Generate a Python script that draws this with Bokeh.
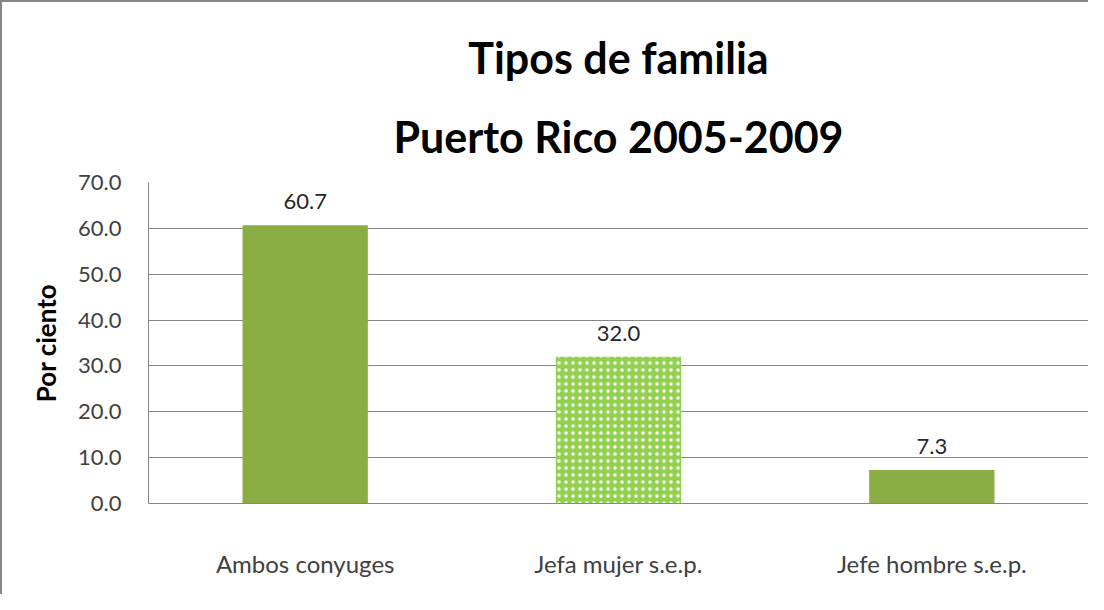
from bokeh.plotting import figure
from bokeh.models import ColumnDataSource, Range1d, FactorRange, LabelSet, Title, FixedTicker, CustomJSTickFormatter
from bokeh.core.properties import value
from bokeh.embed import file_html
from bokeh.resources import INLINE

categories = ["Ambos conyuges", "Jefa mujer s.e.p.", "Jefe hombre s.e.p."]
values = [60.7, 32.0, 7.3]
fill_colors = ["#8AAE44", "#92D050", "#8AAE44"]
hatches = [" ", ".", " "]
y_ticks = [0, 10, 20, 30, 40, 50, 60, 70]
title_lines = ["Tipos de familia", "Puerto Rico 2005-2009"]

labels = ["%.1f" % v for v in values]
src = ColumnDataSource(dict(cat=categories, val=values, lab=labels, color=fill_colors, hatch=hatches))

FONT = "Lato"
p = figure(width=1088, height=594, x_range=FactorRange(*categories), y_range=Range1d(0, 70),
           output_backend="svg", toolbar_location=None,
           min_border_left=146, min_border_right=2, min_border_top=180, min_border_bottom=93)
p.styles = {"border-left": "2px solid #868686", "border-top": "2px solid #868686"}

p.title.text = title_lines[0]
p.title.text_font = FONT
p.title.text_font_size = "43px"
p.title.text_font_style = "bold"
p.title.text_color = "#000000"
p.title.align = "center"
p.title.standoff = 9
t2 = Title(text=title_lines[1], text_font=FONT, text_font_size="43px", text_font_style="bold",
           text_color="#000000", align="center", standoff=42)
p.add_layout(t2, "above")

p.vbar(x="cat", top="val", width=0.4, source=src, fill_color="color", line_color=None,
       hatch_pattern="hatch", hatch_color="white", hatch_scale=7, hatch_weight=0.7)

p.add_layout(LabelSet(x="cat", y="val", text="lab", source=src, text_align="center",
                      text_baseline="alphabetic", y_offset=16, text_font=value(FONT),
                      text_font_size="22px", text_color="#262626"))

p.outline_line_color = None
p.background_fill_color = "white"
p.border_fill_color = "white"

p.xgrid.grid_line_color = None
p.ygrid.grid_line_color = "#868686"
p.ygrid.grid_line_width = 1
p.yaxis.ticker = FixedTicker(ticks=y_ticks)
p.yaxis.formatter = CustomJSTickFormatter(code="return tick.toFixed(1);")

for ax in (p.xaxis, p.yaxis):
    ax.axis_line_color = "#868686"
    ax.major_tick_line_color = None
    ax.minor_tick_line_color = None
    ax.major_label_text_font = FONT
    ax.major_label_text_color = "#404040"

p.yaxis.major_label_text_font_size = "22px"
p.xaxis.major_label_text_font_size = "24px"
p.xaxis.major_label_standoff = 39
p.yaxis.major_label_standoff = 21
p.yaxis.axis_label = "Por ciento"
p.yaxis.axis_label_text_font = FONT
p.yaxis.axis_label_text_font_size = "26px"
p.yaxis.axis_label_text_font_style = "bold"
p.yaxis.axis_label_text_color = "#000000"
p.yaxis.axis_label_standoff = 13

open("out.html", "w").write(file_html(p, INLINE))
